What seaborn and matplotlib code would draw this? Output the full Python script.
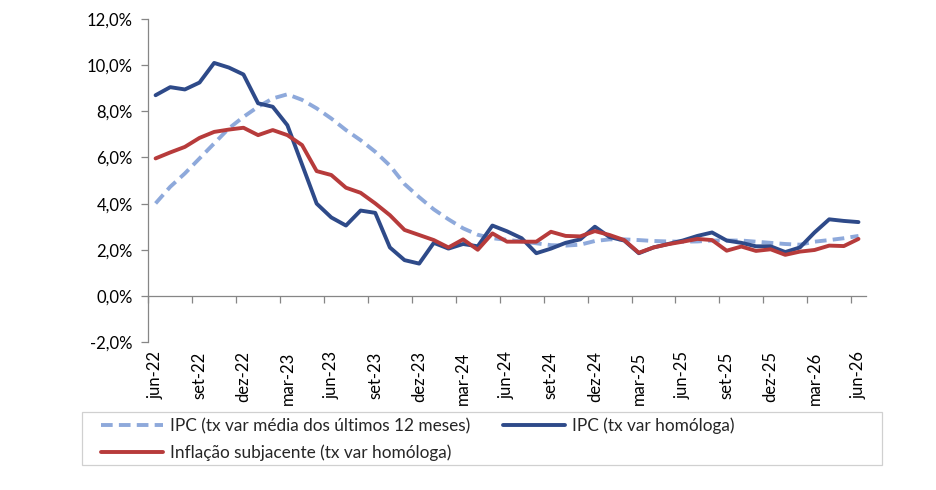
import matplotlib
matplotlib.use("Agg")
import matplotlib.pyplot as plt
import matplotlib.patches as mpatches
from matplotlib.ticker import FuncFormatter, FixedLocator
import numpy as np
import pandas as pd
import seaborn as sns

# monthly values, jun-22 .. jun-26 (49 months)
ipc_media_12m = [4.01, 4.73, 5.31, 5.96, 6.61, 7.26, 7.76, 8.20, 8.56, 8.74,
                 8.50, 8.13, 7.69, 7.19, 6.75, 6.25, 5.65, 4.85, 4.28, 3.75,
                 3.32, 2.93, 2.65, 2.50, 2.43, 2.36, 2.28, 2.20, 2.18, 2.22,
                 2.38, 2.45, 2.45, 2.42, 2.38, 2.36, 2.35, 2.36, 2.40, 2.40,
                 2.40, 2.35, 2.30, 2.25, 2.22, 2.35, 2.42, 2.50, 2.60]
ipc_homologa = [8.70, 9.05, 8.95, 9.25, 10.10, 9.90, 9.60, 8.35, 8.20, 7.40,
                5.70, 4.00, 3.40, 3.05, 3.70, 3.60, 2.10, 1.55, 1.40, 2.30,
                2.05, 2.25, 2.15, 3.05, 2.80, 2.50, 1.85, 2.05, 2.30, 2.45,
                3.00, 2.55, 2.40, 1.85, 2.10, 2.25, 2.40, 2.60, 2.75, 2.40,
                2.30, 2.15, 2.15, 1.90, 2.10, 2.75, 3.32, 3.25, 3.20]
inflacao_subjacente = [5.96, 6.22, 6.46, 6.85, 7.11, 7.21, 7.29, 6.97, 7.19, 6.97,
                       6.54, 5.41, 5.24, 4.69, 4.47, 4.01, 3.50, 2.86, 2.64, 2.42,
                       2.10, 2.45, 2.00, 2.71, 2.35, 2.35, 2.35, 2.78, 2.60, 2.58,
                       2.81, 2.64, 2.42, 1.87, 2.10, 2.24, 2.35, 2.47, 2.42, 1.96,
                       2.14, 1.95, 2.02, 1.78, 1.92, 1.99, 2.18, 2.16, 2.47]

tick_labels = ["jun-22", "set-22", "dez-22", "mar-23", "jun-23", "set-23",
               "dez-23", "mar-24", "jun-24", "set-24", "dez-24", "mar-25",
               "jun-25", "set-25", "dez-25", "mar-26", "jun-26"]

serie_names = ["IPC (tx var média dos últimos 12 meses)",
               "IPC (tx var homóloga)",
               "Inflação subjacente (tx var homóloga)"]

c_media = "#8EA9DB"
c_ipc = "#2E4A89"
c_core = "#B73B3B"

sns.set_style("white")
plt.rcParams["font.family"] = ["Lato", "DejaVu Sans"]

df = pd.DataFrame({"mes": np.arange(len(ipc_homologa)),
                   "media": ipc_media_12m,
                   "ipc": ipc_homologa,
                   "core": inflacao_subjacente})

fig = plt.figure(figsize=(9.36, 4.9), dpi=100)
ax = fig.add_axes([0.1584, 0.302, 0.7666, 0.659])

lw = 2.8
sns.lineplot(data=df, x="mes", y="media", ax=ax, color=c_media, linewidth=lw,
             dashes=False, linestyle=(0, (3.0, 1.6)), label=serie_names[0])
sns.lineplot(data=df, x="mes", y="ipc", ax=ax, color=c_ipc, linewidth=lw,
             label=serie_names[1])
sns.lineplot(data=df, x="mes", y="core", ax=ax, color=c_core, linewidth=lw,
             label=serie_names[2])

n = len(ipc_homologa)
ax.set_xlim(-0.5, n - 0.5)
ax.set_ylim(-2, 12)
ax.set_yticks(np.arange(-2, 12.1, 2))
ax.yaxis.set_major_formatter(FuncFormatter(lambda v, p: f"{v:.1f}%".replace(".", ",")))

# category-style x axis: tick marks between months, labels on the months
label_pos = np.arange(0, n, 3)
ax.xaxis.set_major_locator(FixedLocator(label_pos - 0.5))
ax.xaxis.set_major_formatter(FuncFormatter(lambda v, p: ""))
ax.set_xticks(label_pos, minor=True)
ax.set_xticklabels(tick_labels, minor=True)

ax.spines["bottom"].set_position(("data", 0))
for s in ["top", "right"]:
    ax.spines[s].set_visible(False)
for s in ["left", "bottom"]:
    ax.spines[s].set_color("#868686")
    ax.spines[s].set_linewidth(0.9)

ax.tick_params(axis="y", which="major", direction="out", length=5, width=0.9,
               color="#868686", labelsize=12, labelcolor="#000000", pad=6, left=True)
ax.tick_params(axis="x", which="major", direction="out", length=5, width=0.9,
               color="#868686", bottom=True)
ax.tick_params(axis="x", which="minor", length=0, labelsize=12,
               labelcolor="#000000", pad=40, labelrotation=90)
for t in ax.get_xticklabels(minor=True):
    t.set_verticalalignment("top")
    t.set_horizontalalignment("center")

ax.set_xlabel("")
ax.set_ylabel("")
ax.grid(False)

h, l = ax.get_legend_handles_labels()
ax.get_legend().remove()
order = [0, 2, 1]
fig.legend([h[i] for i in order], [l[i] for i in order], ncol=2,
           loc="upper left", bbox_to_anchor=(0.1075, 0.148), frameon=False,
           fontsize=12.4, handlelength=3.6, handletextpad=0.4, columnspacing=1.95,
           labelspacing=0.6, borderpad=0, borderaxespad=0)
fig.patches.append(mpatches.Rectangle((0.0873, 0.051), 0.855, 0.1087,
                                      transform=fig.transFigure, fill=False,
                                      edgecolor="#D0D0D0", linewidth=0.9))

fig.savefig("out.png", dpi=100)
